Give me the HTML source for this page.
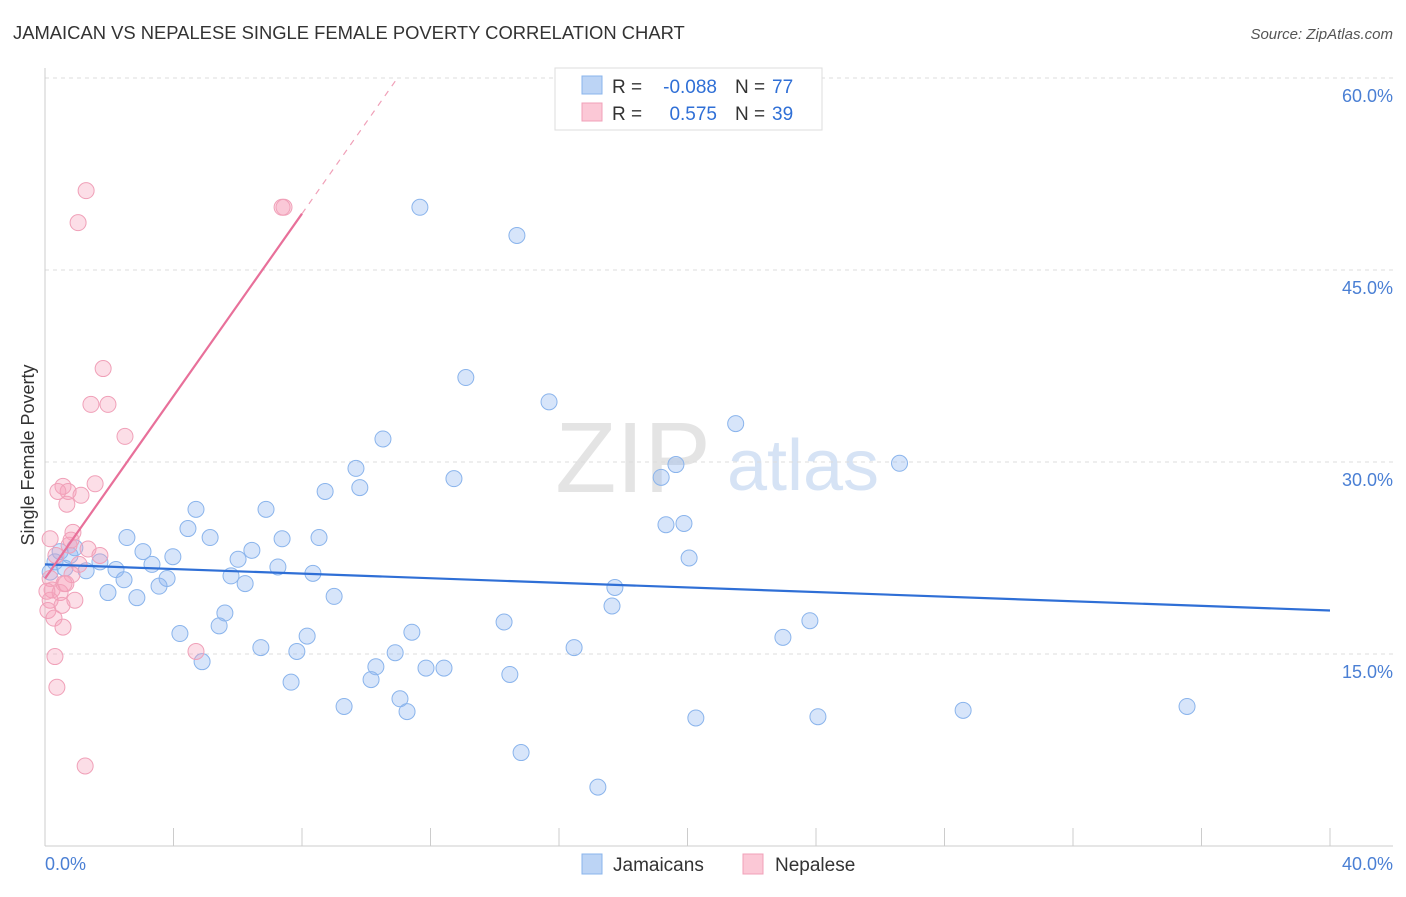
<!DOCTYPE html>
<html><head><meta charset="utf-8"><style>
body{margin:0;background:#fff;font-family:"Liberation Sans",sans-serif;}
svg text{font-family:"Liberation Sans",sans-serif;}
</style></head><body>
<svg id="c" width="1406" height="892" xmlns="http://www.w3.org/2000/svg">
<text x="13" y="39" font-size="18.4" fill="#333">JAMAICAN VS NEPALESE SINGLE FEMALE POVERTY CORRELATION CHART</text>
<text x="1393" y="39" font-size="15" fill="#555" font-style="italic" text-anchor="end">Source: ZipAtlas.com</text>
<text x="633" y="492" font-size="100" fill="#e4e4e4" font-family="Liberation Serif" text-anchor="middle">ZIP</text>
<text x="803" y="490" font-size="72" fill="#d6e3f5" text-anchor="middle">atlas</text>
<g id="grid"></g><g id="marks"></g>
<text transform="translate(34,455) rotate(-90)" font-size="18" fill="#333" text-anchor="middle">Single Female Poverty</text>
<text x="45" y="870" font-size="18" fill="#4a7fd4">0.0%</text>
<text x="1393" y="870" font-size="18" fill="#4a7fd4" text-anchor="end">40.0%</text>
<g>
<rect x="555" y="68" width="267" height="62" fill="#fff" stroke="#ddd"/>
<rect x="582" y="76" width="20" height="18" fill="#bcd4f5" stroke="#8ab4ec"/>
<rect x="582" y="103" width="20" height="18" fill="#fbc8d6" stroke="#f0a0b8"/>
<text x="612" y="93" font-size="19" fill="#333">R =</text>
<text x="717" y="93" font-size="19" fill="#2f6fd6" text-anchor="end">-0.088</text>
<text x="735" y="93" font-size="19" fill="#333">N =</text>
<text x="772" y="93" font-size="19" fill="#2f6fd6">77</text>
<text x="612" y="120" font-size="19" fill="#333">R =</text>
<text x="717" y="120" font-size="19" fill="#2f6fd6" text-anchor="end">0.575</text>
<text x="735" y="120" font-size="19" fill="#333">N =</text>
<text x="772" y="120" font-size="19" fill="#2f6fd6">39</text>
</g>
<g>
<rect x="582" y="854" width="20" height="20" fill="#bcd4f5" stroke="#8ab4ec"/>
<text x="613" y="871" font-size="19" fill="#333">Jamaicans</text>
<rect x="743" y="854" width="20" height="20" fill="#fbc8d6" stroke="#f0a0b8"/>
<text x="775" y="871" font-size="19" fill="#333">Nepalese</text>
</g>
</svg>
<script>
const yTicks=[15,30,45,60];
const jamX=[11.67,14.69,13.1,15.69,21.5,10.52,9.68,19.64,19.18,26.6,12.73,9.8,8.72,4.7,6.88,19.33,19.89,4.45,2.55,5.14,8.53,7.38,3.05,3.98,6.44,6.01,20.05,3.33,1.71,2.21,1.28,7.25,8.34,5.79,2.46,3.8,3.55,6.23,17.74,1.96,2.86,9.0,17.65,5.6,14.29,23.81,5.42,4.2,11.42,8.16,22.97,16.47,6.72,7.84,10.9,4.89,10.3,11.86,12.42,14.47,10.15,7.66,11.05,9.31,11.27,20.26,24.06,28.58,35.55,14.82,17.21,0.47,0.78,0.31,0.62,0.16,0.93];
const jamY=[49.9,47.7,36.6,34.7,33.0,31.8,29.5,29.8,28.8,29.9,28.7,28.0,27.7,26.3,26.3,25.1,25.2,24.8,24.1,24.1,24.1,24.0,23.0,22.6,23.1,22.4,22.5,22.0,22.2,21.6,21.5,21.8,21.3,21.1,20.8,20.9,20.3,20.5,20.2,19.8,19.4,19.5,18.75,18.2,17.5,17.6,17.2,16.6,16.7,16.4,16.3,15.5,15.5,15.2,15.1,14.4,14.0,13.9,13.9,13.4,13.0,12.8,11.5,10.9,10.5,10.0,10.1,10.6,10.9,7.3,4.6,23.0,22.7,22.2,21.7,21.4,23.3];
const nepX=[1.28,1.03,7.44,1.81,1.43,1.96,2.49,0.56,0.72,1.56,0.4,1.12,0.68,0.87,0.16,0.75,1.34,0.34,1.06,0.84,0.16,0.59,0.22,0.47,0.93,0.16,0.53,0.09,0.28,0.56,0.31,4.7,0.37,1.25,7.38,0.65,1.71,0.06,0.81];
const nepY=[51.2,48.7,49.9,37.3,34.5,34.5,32.0,28.1,27.7,28.3,27.7,27.4,26.7,24.5,24.0,23.5,23.2,22.7,22.0,21.2,20.9,20.5,20.0,19.8,19.2,19.2,18.8,18.4,17.8,17.1,14.8,15.2,12.4,6.25,49.9,20.5,22.7,19.9,23.9];
const jamTrend=[22.0,18.4];
const nepTrend=[20.9,49.4,60.1];
const nepTrendX=[0,8.0,11.0];
const X=v=>45+v*32.125, Y=v=>846-v*12.8;
const NS="http://www.w3.org/2000/svg";
function mk(t,a,p){const e=document.createElementNS(NS,t);for(const k in a)e.setAttribute(k,a[k]);p.appendChild(e);return e;}
const g=document.getElementById('grid'),m=document.getElementById('marks');
yTicks.forEach(t=>{
 const l=mk('line',{x1:45,x2:1393,y1:Y(t),y2:Y(t),stroke:'#ddd','stroke-dasharray':'4,4'},g);
 
 
 const tx=mk('text',{x:1393,y:Y(t)+24,'font-size':18,fill:'#4a7fd4','text-anchor':'end'},g);
 tx.textContent=t.toFixed(1)+'%';
 
 
});
const ax=mk('line',{x1:45,x2:45,y1:68,y2:846,stroke:'#ccc'},g);


const bx=mk('line',{x1:45,x2:1393,y1:846,y2:846,stroke:'#ccc'},g);


for(let i=0;i<=40;i+=4){
 const t=mk('line',{x1:X(i),x2:X(i),y1:828,y2:846,stroke:'#ccc'},g);
 
 
}
jamX.forEach((v,i)=>{
 const c=mk('circle',{cx:X(v),cy:Y(jamY[i]),r:8,fill:'rgba(140,180,240,0.35)',stroke:'#8ab4ec','stroke-width':1},m);
 
 
});
nepX.forEach((v,i)=>{
 const c=mk('circle',{cx:X(v),cy:Y(nepY[i]),r:8,fill:'rgba(245,160,185,0.35)',stroke:'#f0a0b8','stroke-width':1},m);
 
 
});
const jl=mk('line',{x1:X(0),y1:Y(jamTrend[0]),x2:X(40),y2:Y(jamTrend[1]),stroke:'#2f6fd6','stroke-width':2.2},m);


const nl=mk('line',{x1:X(nepTrendX[0]),y1:Y(nepTrend[0]),x2:X(nepTrendX[1]),y2:Y(nepTrend[1]),stroke:'#e8709a','stroke-width':2.2},m);


const nd=mk('line',{x1:X(nepTrendX[1]),y1:Y(nepTrend[1]),x2:X(nepTrendX[2]),y2:Y(nepTrend[2]),stroke:'#f0a0b8','stroke-width':1.2,'stroke-dasharray':'6,6'},m);


</script>
</body></html>
